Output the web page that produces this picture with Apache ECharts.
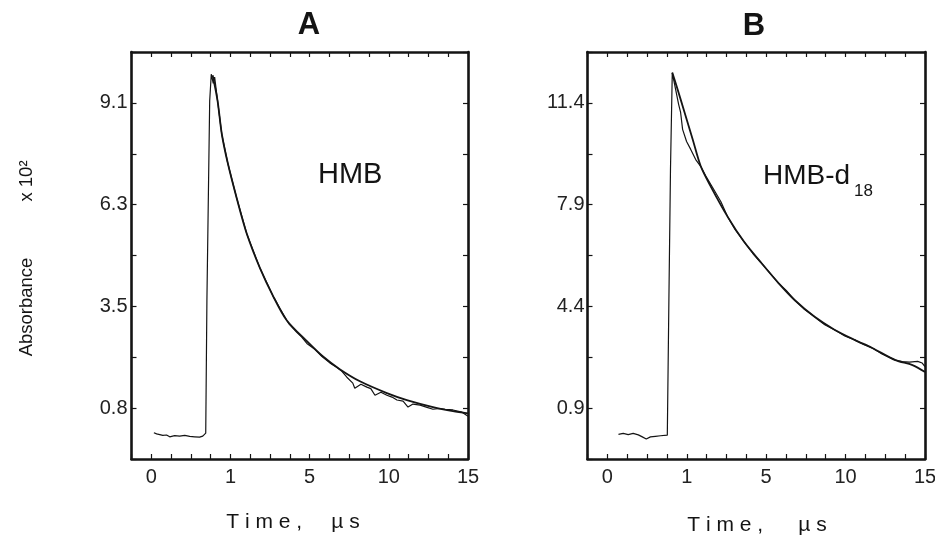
<!DOCTYPE html>
<html>
<head>
<meta charset="utf-8">
<script src="https://cdn.jsdelivr.net/npm/echarts@6/dist/echarts.min.js"></script>
<style>
html,body{margin:0;padding:0;background:#fff;}
#chart{width:935px;height:537px;}
</style>
</head>
<body>
<div id="chart"></div>
<script>
// x positions are in axis tick units: labelled ticks sit at 0,4,8,12,16
const xTickLabels = ['0', '1', '5', '10', '15'];
const yTickLabelsA = ['0.8', '3.5', '6.3', '9.1'];
const yTickLabelsB = ['0.9', '4.4', '7.9', '11.4'];

// Panel A (HMB): measured trace
const posA_trace = [0.13,0.27,0.43,0.58,0.77,0.93,1.18,1.43,1.69,1.94,2.19,2.44,2.60,2.75,2.81,2.95,3.03,3.13,3.20,3.35,3.56,3.86,4.31,4.82,5.48,6.14,6.50,6.84,6.94,7.35,7.60,7.86,8.26,8.61,9.02,9.37,9.63,9.88,10.18,10.28,10.59,10.89,11.09,11.30,11.60,11.90,12.16,12.41,12.72,12.97,13.22,13.58,13.93,14.23,14.58,14.84,15.24,15.70,16.0];
const absA_trace = [0.13,0.10,0.08,0.06,0.07,0.02,0.05,0.04,0.06,0.03,0.02,0.01,0.04,0.12,3.73,9.15,9.88,9.63,9.80,9.15,8.25,7.47,6.52,5.55,4.62,3.86,3.51,3.19,3.10,2.86,2.73,2.56,2.40,2.21,2.03,1.91,1.80,1.64,1.48,1.34,1.45,1.37,1.33,1.15,1.23,1.15,1.10,1.02,0.99,0.83,0.91,0.88,0.82,0.77,0.79,0.77,0.75,0.69,0.58];
// Panel A: fitted decay
const posA_fit = [3.10,3.35,3.56,3.86,4.31,4.82,5.48,6.14,6.84,7.86,8.66,9.52,10.54,11.90,12.91,14.23,15.24,16.0];
const absA_fit = [9.85,9.15,8.26,7.47,6.52,5.55,4.62,3.86,3.19,2.62,2.21,1.86,1.53,1.21,1.02,0.83,0.72,0.66];

// Panel B (HMB-d18): measured trace
const posB_trace = [0.56,0.80,1.05,1.30,1.56,1.76,1.96,2.17,2.42,2.68,3.02,3.10,3.18,3.27,3.39,3.59,3.69,3.79,3.99,4.20,4.45,4.71,4.96,5.31,5.72,6.07,6.43,6.88,7.34,7.75,8.15,8.61,9.01,9.43,9.88,10.44,10.65,10.95,11.46,11.96,12.48,12.93,13.34,13.84,14.51,14.86,15.21,15.63,15.86,16.0];
const absB_trace = [0.00,0.03,-0.01,0.03,-0.02,-0.09,-0.16,-0.09,-0.07,-0.05,-0.03,4.63,9.11,12.44,12.03,11.35,11.07,10.49,10.07,9.80,9.45,9.21,8.88,8.48,8.00,7.47,7.05,6.63,6.21,5.90,5.58,5.21,4.95,4.62,4.33,4.04,3.92,3.77,3.59,3.38,3.24,3.08,2.97,2.76,2.55,2.50,2.48,2.51,2.45,2.33];
// Panel B: fitted decay
const posB_fit = [3.27,3.49,3.89,4.30,4.71,5.21,6.07,6.88,7.75,8.61,9.43,10.44,11.46,12.48,13.34,14.51,15.37,16.0];
const absB_fit = [12.44,11.97,11.07,10.14,9.21,8.52,7.47,6.63,5.90,5.21,4.62,4.04,3.59,3.24,2.97,2.55,2.38,2.14];

const INK = '#141414';
const FONT = '"Liberation Sans", Arial, sans-serif';

function pairs(xs, ys) { return xs.map((x, i) => [x, ys[i]]); }

// Data-axis range from the tick labels: labelled ticks sit at odd tick indices 1,3,5,7 of 0..8
function dataRange(labels) {
  const lo = parseFloat(labels[0]), hi = parseFloat(labels[labels.length - 1]);
  const step = (hi - lo) / 6;
  return [lo - step, hi + step];
}
const rangeA = dataRange(yTickLabelsA);
const rangeB = dataRange(yTickLabelsB);

function xAxes(grid, showLabels, pos) {
  return {
    type: 'value', gridIndex: grid, position: pos, min: -1, max: 16, interval: 1,
    axisLine: { show: true, onZero: false, lineStyle: { color: INK, width: 2.6 } },
    axisTick: { show: true, inside: true, length: 5, lineStyle: { color: INK, width: 1.2 } },
    splitLine: { show: false },
    axisLabel: {
      show: showLabels, margin: 8, color: '#222', fontSize: 20, fontFamily: FONT,
      showMinLabel: true, showMaxLabel: true, hideOverlap: false,
      formatter: v => { const r = Math.round(v); return (r >= 0 && r % 4 === 0) ? (xTickLabels[r / 4] || '') : ''; }
    }
  };
}
function yTickAxis(grid, labels, pos, showLabels, margin) {
  return {
    type: 'value', gridIndex: grid, position: pos, min: 0, max: 8, interval: 1,
    axisLine: { show: true, onZero: false, lineStyle: { color: INK, width: 2.6 } },
    axisTick: { show: true, inside: true, length: 5, lineStyle: { color: INK, width: 1.2 } },
    splitLine: { show: false },
    axisLabel: {
      show: showLabels, margin: margin, color: '#222', fontSize: 20, fontFamily: FONT,
      showMinLabel: true, showMaxLabel: true, hideOverlap: false,
      formatter: v => { const r = Math.round(v); return r % 2 === 1 ? labels[(r - 1) / 2] : ''; }
    }
  };
}
function yDataAxis(grid, range) {
  return { type: 'value', gridIndex: grid, position: 'left', min: range[0], max: range[1], show: false, splitLine: { show: false } };
}

const lineBase = { type: 'line', showSymbol: false, symbol: 'none', animation: false, clip: true };

const option = {
  animation: false,
  backgroundColor: '#fff',
  grid: [
    { left: 131.5, top: 52, width: 336.5, height: 407, outerBoundsMode: 'none', containLabel: false },
    { left: 587.5, top: 52, width: 337.5, height: 407, outerBoundsMode: 'none', containLabel: false }
  ],
  xAxis: [
    xAxes(0, true, 'bottom'), xAxes(0, false, 'top'),
    xAxes(1, true, 'bottom'), xAxes(1, false, 'top')
  ],
  yAxis: [
    yTickAxis(0, yTickLabelsA, 'left', true, 4), yTickAxis(0, yTickLabelsA, 'right', false, 4), yDataAxis(0, rangeA),
    yTickAxis(1, yTickLabelsB, 'left', true, 3), yTickAxis(1, yTickLabelsB, 'right', false, 3), yDataAxis(1, rangeB)
  ],
  series: [
    Object.assign({}, lineBase, { name: 'HMB trace', xAxisIndex: 0, yAxisIndex: 2, data: pairs(posA_trace, absA_trace), lineStyle: { color: INK, width: 1.2 } }),
    Object.assign({}, lineBase, { name: 'HMB fit', xAxisIndex: 0, yAxisIndex: 2, smooth: 0.3, data: pairs(posA_fit, absA_fit), lineStyle: { color: INK, width: 1.8 } }),
    Object.assign({}, lineBase, { name: 'HMB-d18 trace', xAxisIndex: 2, yAxisIndex: 5, data: pairs(posB_trace, absB_trace), lineStyle: { color: INK, width: 1.2 } }),
    Object.assign({}, lineBase, { name: 'HMB-d18 fit', xAxisIndex: 2, yAxisIndex: 5, smooth: 0.3, data: pairs(posB_fit, absB_fit), lineStyle: { color: INK, width: 1.8 } })
  ],
  graphic: [
    { type: 'text', x: 309, y: 25, style: { text: 'A', fontSize: 31, fontWeight: 'bold', fontFamily: FONT, fill: INK, align: 'center', verticalAlign: 'middle' } },
    { type: 'text', x: 754, y: 26, style: { text: 'B', fontSize: 31, fontWeight: 'bold', fontFamily: FONT, fill: INK, align: 'center', verticalAlign: 'middle' } },
    { type: 'text', x: 318, y: 175, style: { text: 'HMB', fontSize: 29, fontFamily: FONT, fill: INK, align: 'left', verticalAlign: 'middle' } },
    { type: 'text', x: 763, y: 176, style: { text: 'HMB-d', fontSize: 28, fontFamily: FONT, fill: INK, align: 'left', verticalAlign: 'middle' } },
    { type: 'text', x: 854, y: 191, style: { text: '18', fontSize: 17, fontFamily: FONT, fill: INK, align: 'left', verticalAlign: 'middle' } },
    { type: 'text', x: 293, y: 522, style: { text: 'T i m e ,     µ s', fontSize: 21, fontFamily: FONT, fill: INK, align: 'center', verticalAlign: 'middle' } },
    { type: 'text', x: 757, y: 525, style: { text: 'T i m e ,      µ s', fontSize: 21, fontFamily: FONT, fill: INK, align: 'center', verticalAlign: 'middle' } },
    { type: 'text', x: 27, y: 307, rotation: Math.PI / 2, style: { text: 'Absorbance', fontSize: 18.5, fontFamily: FONT, fill: INK, align: 'center', verticalAlign: 'middle' } },
    { type: 'text', x: 27, y: 181, rotation: Math.PI / 2, style: { text: 'x 10²', fontSize: 18.5, fontFamily: FONT, fill: INK, align: 'center', verticalAlign: 'middle' } }
  ]
};

const chart = echarts.init(document.getElementById('chart'), null, { renderer: 'canvas' });
chart.setOption(option);
</script>
</body>
</html>
